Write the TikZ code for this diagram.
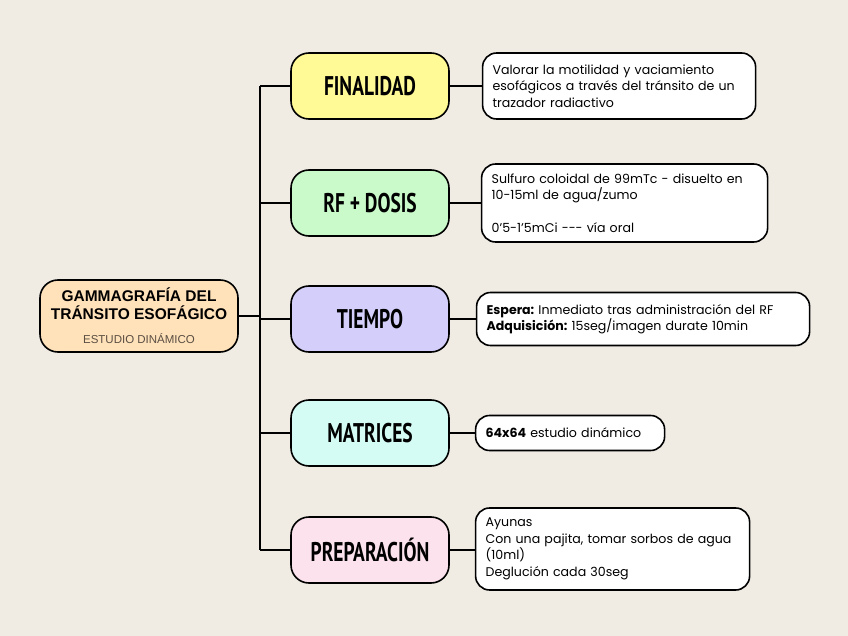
\documentclass[tikz,border=0pt]{standalone}
\usepackage{fontspec}
\setmainfont{Poppins}
\newfontfamily\rootfont{Liberation Sans}
\newfontfamily\catfont[FakeStretch=0.72]{PT Sans}
\usetikzlibrary{positioning}
\setlength{\parindent}{0pt}

\definecolor{paper}{RGB}{240,236,228}
\definecolor{rootpeach}{RGB}{255,226,186}
\definecolor{subbrown}{RGB}{90,78,66}
\definecolor{catyellow}{RGB}{255,249,150}
\definecolor{catgreen}{RGB}{202,250,202}
\definecolor{catlilac}{RGB}{212,207,250}
\definecolor{catcyan}{RGB}{212,252,245}
\definecolor{catpink}{RGB}{252,226,236}

\newcommand{\subline}[1]{\fontsize{11.5}{13}\selectfont\mdseries\color{subbrown}#1}

\tikzset{
  rootbox/.style={draw, line width=1.6pt, rounded corners=18pt, fill=rootpeach,
    minimum width=198pt, minimum height=72pt, align=center, inner sep=0pt,
    font=\rootfont\bfseries\fontsize{15.5}{17.5}\selectfont},
  catbox/.style={draw, line width=1.6pt, rounded corners=18pt,
    minimum width=158pt, minimum height=66pt, inner sep=0pt,
    font=\catfont\bfseries\fontsize{27}{30}\selectfont},
  leafbox/.style={draw, line width=1.6pt, rounded corners=14pt, fill=white,
    align=left, inner xsep=10pt, inner ysep=0pt,
    font=\fontsize{12.6}{16.5}\selectfont},
  link/.style={line width=1.4pt}
}

\begin{document}
\begin{tikzpicture}[x=1pt,y=-1pt]

% Canvas
\fill[paper] (0,0) rectangle (848,636);
\useasboundingbox (0,0) rectangle (848,636);

% Root
\node[rootbox] (root) at (139,316)
  {GAMMAGRAFÍA DEL\\TRÁNSITO ESOFÁGICO\\[7pt]\subline{ESTUDIO DINÁMICO}};

% Categories
\foreach \n/\t/\c/\y in {fin/FINALIDAD/catyellow/86, rf/RF + DOSIS/catgreen/203,
    tiempo/TIEMPO/catlilac/319, matr/MATRICES/catcyan/433,
    prep/PREPARACIÓN/catpink/550} {
  \node[catbox, fill=\c] (\n) at (370,\y) {\t};
}

% Details
\node[leafbox, text width=253pt, minimum height=66pt, right=32pt of fin] (finT)
  {Valorar la motilidad y vaciamiento\\esofágicos a través del tránsito de un\\trazador radiactivo};
\node[leafbox, text width=266pt, minimum height=78pt, right=31pt of rf] (rfT)
  {Sulfuro coloidal de 99mTc - disuelto en\\10-15ml de agua/zumo\\[16.5pt]0'5-1'5mCi -{}-{}- vía oral};
\node[leafbox, text width=313pt, minimum height=53pt, right=26pt of tiempo] (tiempoT)
  {\textbf{Espera:}~Inmediato tras administración del RF\\\textbf{Adquisición:}~15seg/imagen durate 10min};
\node[leafbox, text width=169pt, minimum height=35pt, right=25pt of matr] (matrT)
  {\textbf{64x64} estudio dinámico};
\node[leafbox, text width=254pt, minimum height=82pt, right=25pt of prep, yshift=1pt] (prepT)
  {Ayunas\\Con una pajita, tomar sorbos de agua\\(10ml)\\Deglución cada 30seg};

% Connections
\coordinate (trunk) at (260,316);
\draw[link] (root.east) -- (trunk);
\draw[link] (trunk |- fin.west) -- (trunk |- prep.west);
\foreach \n in {fin,rf,tiempo,matr,prep} {
  \draw[link] (trunk |- \n.west) -- (\n.west);
  \draw[link] (\n.east) -- (\n.east -| \n T.west);
}

\end{tikzpicture}
\end{document}
